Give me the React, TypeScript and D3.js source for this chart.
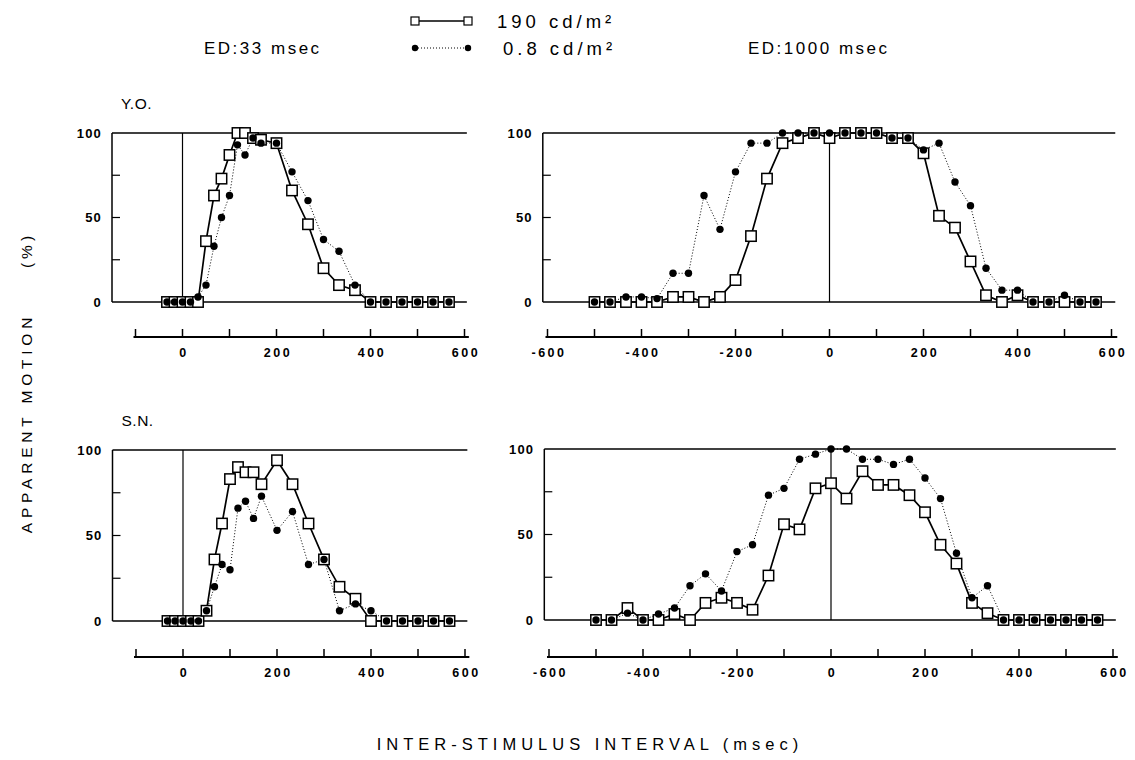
import React from "react";
import * as d3 from "d3";

// ---- data ----
const xShort = [-33, -17, 0, 17, 33, 50, 67, 83, 100, 117, 133, 150, 167, 200, 233, 267, 300, 333, 367, 400, 433, 467, 500, 533, 567];
const xLong = [-500, -467, -433, -400, -367, -333, -300, -267, -233, -200, -167, -133, -100, -67, -33, 0, 33, 67, 100, 133, 167, 200, 233, 267, 300, 333, 367, 400, 433, 467, 500, 533, 567];

const yoShortBright = [0, 0, 0, 0, 0, 36, 63, 73, 87, 100, 100, 97, 96, 94, 66, 46, 20, 10, 7, 0, 0, 0, 0, 0, 0];
const yoShortDim = [0, 0, 0, 0, 3, 10, 33, 50, 63, 93, 87, 97, 94, 94, 77, 60, 37, 30, 10, 0, 0, 0, 0, 0, 0];

const yoLongBright = [0, 0, 0, 0, 0, 3, 3, 0, 3, 13, 39, 73, 94, 97, 100, 97, 100, 100, 100, 97, 97, 88, 51, 44, 24, 4, 0, 4, 0, 0, 0, 0, 0];
const yoLongDim = [0, 0, 3, 3, 2, 17, 17, 63, 43, 77, 94, 94, 100, 100, 100, 100, 100, 100, 100, 97, 97, 90, 94, 71, 57, 20, 7, 7, 0, 0, 4, 0, 0];

const snShortBright = [0, 0, 0, 0, 0, 6, 36, 57, 83, 90, 87, 87, 80, 94, 80, 57, 36, 20, 13, 0, 0, 0, 0, 0, 0];
const snShortDim = [0, 0, 0, 0, 0, 6, 20, 33, 30, 66, 70, 60, 73, 53, 64, 33, 36, 6, 10, 6, 0, 0, 0, 0, 0];

const snLongBright = [0, 0, 7, 0, 0, 3.5, 0, 10, 13, 10, 6, 26, 56, 53, 77, 80, 71, 87, 79, 79, 73, 63, 44, 33, 10, 4, 0, 0, 0, 0, 0, 0, 0];
const snLongDim = [0, 0, 4, 0, 3.5, 7, 20, 27, 17, 40, 44, 73, 77, 94, 97, 100, 100, 94, 94, 91, 94, 83, 71, 39, 13, 20, 0, 0, 0, 0, 0, 0, 0];

const yTickLabels = [0, 50, 100];
const yMinorTicks = [25, 50, 75];
const shortTickLabels = [0, 200, 400, 600];
const longTickLabels = [-600, -400, -200, 0, 200, 400, 600];
const shortTicks = [-100, 0, 100, 200, 300, 400, 500, 600];
const longTicks = [-600, -500, -400, -300, -200, -100, 0, 100, 200, 300, 400, 500, 600];

const FONT = "'Liberation Sans', Arial, sans-serif";
const PXU = 0.47; // px per msec

type PanelProps = {
  x0: number;
  domain: [number, number];
  yTop: number;
  yBottom: number;
  axisY: number;
  xs: number[];
  bright: number[];
  dim: number[];
  ticks: number[];
  tickLabels: number[];
  label?: string;
};

function Panel(p: PanelProps) {
  const x = d3
    .scaleLinear()
    .domain(p.domain)
    .range([p.x0 + p.domain[0] * PXU, p.x0 + p.domain[1] * PXU]);
  const y = d3.scaleLinear().domain([0, 100]).range([p.yBottom, p.yTop]);
  const left = x(p.domain[0]);
  const right = x(p.domain[1]);
  const line = d3
    .line<[number, number]>()
    .x((d) => x(d[0]))
    .y((d) => y(d[1]));
  const bPts: [number, number][] = p.xs.map((v, i) => [v, p.bright[i]]);
  const dPts: [number, number][] = p.xs.map((v, i) => [v, p.dim[i]]);
  const axL = x(p.ticks[0]) - 2;
  const axR = right + 2;
  return (
    <g>
      <line x1={left} x2={left} y1={y(0)} y2={y(100)} stroke="#000" strokeWidth={1.5} />
      <line x1={left} x2={right} y1={y(100)} y2={y(100)} stroke="#000" strokeWidth={1.3} />
      <line x1={left} x2={right} y1={y(0)} y2={y(0)} stroke="#000" strokeWidth={1.3} />
      <line x1={x(0)} x2={x(0)} y1={y(0)} y2={y(100)} stroke="#000" strokeWidth={1.2} />
      {yMinorTicks.map((t) => (
        <line key={"yt" + t} x1={left} x2={left + 8} y1={y(t)} y2={y(t)} stroke="#000" strokeWidth={1.2} />
      ))}
      {yTickLabels.map((t) => (
        <text
          key={"yl" + t}
          x={left - 10}
          y={y(t)}
          dy="0.36em"
          textAnchor="end"
          fontFamily={FONT}
          fontWeight="bold"
          fontSize={13}
          letterSpacing={1.2}
        >
          {t}
        </text>
      ))}
      <line x1={axL} x2={axR} y1={p.axisY} y2={p.axisY} stroke="#000" strokeWidth={2} />
      {p.ticks.map((t) => (
        <line key={"xt" + t} x1={x(t)} x2={x(t)} y1={p.axisY} y2={p.axisY - 8} stroke="#000" strokeWidth={1.5} />
      ))}
      {p.tickLabels.map((t) => (
        <text
          key={"xl" + t}
          x={x(t) + 1.5}
          y={p.axisY + 20}
          textAnchor="middle"
          fontFamily={FONT}
          fontWeight="bold"
          fontSize={12.5}
          letterSpacing={2.5}
        >
          {t < 0 ? "-" + Math.abs(t) : t}
        </text>
      ))}
      <path d={line(dPts) || ""} fill="none" stroke="#000" strokeWidth={1} strokeDasharray="1,2" />
      <path d={line(bPts) || ""} fill="none" stroke="#000" strokeWidth={1.7} />
      {bPts.map((d, i) => (
        <rect
          key={"s" + i}
          x={x(d[0]) - 5.2}
          y={y(d[1]) - 5.2}
          width={10.4}
          height={10.4}
          fill="#fff"
          stroke="#000"
          strokeWidth={1.5}
        />
      ))}
      {dPts.map((d, i) => (
        <circle key={"c" + i} cx={x(d[0])} cy={y(d[1])} r={3.7} fill="#000" />
      ))}
      {p.label && (
        <text x={left + 9} y={p.yTop - 24} fontFamily={FONT} fontSize={15.5} letterSpacing={0.5}>
          {p.label}
        </text>
      )}
    </g>
  );
}

export default function App() {
  return (
    <svg width={1135} height={760} style={{ position: "absolute", left: 0, top: 0, background: "#fff" }}>
      <rect width={1135} height={760} fill="#fff" />
      <g>
        <line x1={415} x2={468} y1={21} y2={21} stroke="#000" strokeWidth={1.5} />
        <rect x={411} y={17} width={8} height={8} fill="#fff" stroke="#000" strokeWidth={1.2} />
        <rect x={464} y={17} width={8} height={8} fill="#fff" stroke="#000" strokeWidth={1.2} />
        <text x={497} y={28} fontFamily={FONT} fontSize={18.5} letterSpacing={4}>
          190 cd/m²
        </text>
        <line x1={415} x2={468} y1={48} y2={48} stroke="#000" strokeWidth={1} strokeDasharray="1,2" />
        <circle cx={415} cy={48} r={3.2} fill="#000" />
        <circle cx={468} cy={48} r={3.2} fill="#000" />
        <text x={503} y={55} fontFamily={FONT} fontSize={18.5} letterSpacing={4}>
          0.8 cd/m²
        </text>
      </g>
      <text x={204} y={54} fontFamily={FONT} fontSize={17} letterSpacing={2.5}>
        ED:33 msec
      </text>
      <text x={748} y={54} fontFamily={FONT} fontSize={17} letterSpacing={2.5}>
        ED:1000 msec
      </text>

      <Panel x0={182.5} domain={[-150, 605]} yTop={133} yBottom={302} axisY={337} xs={xShort} bright={yoShortBright} dim={yoShortDim} ticks={shortTicks} tickLabels={shortTickLabels} label="Y.O." />
      <Panel x0={829.5} domain={[-610, 608]} yTop={133} yBottom={302} axisY={337} xs={xLong} bright={yoLongBright} dim={yoLongDim} ticks={longTicks} tickLabels={longTickLabels} />
      <Panel x0={183} domain={[-150, 605]} yTop={450} yBottom={621} axisY={657} xs={xShort} bright={snShortBright} dim={snShortDim} ticks={shortTicks} tickLabels={shortTickLabels} label="S.N." />
      <Panel x0={831} domain={[-610, 606]} yTop={449} yBottom={620} axisY={657} xs={xLong} bright={snLongBright} dim={snLongDim} ticks={longTicks} tickLabels={longTickLabels} />

      <text transform="translate(32,423) rotate(-90)" textAnchor="middle" fontFamily={FONT} fontSize={15.5} letterSpacing={4.8}>
        APPARENT MOTION
      </text>
      <text transform="translate(32,250) rotate(-90)" textAnchor="middle" fontFamily={FONT} fontSize={15.5} letterSpacing={4}>
        (%)
      </text>
      <text x={590} y={750} textAnchor="middle" fontFamily={FONT} fontSize={16.5} letterSpacing={5}>
        INTER-STIMULUS INTERVAL (msec)
      </text>
    </svg>
  );
}
